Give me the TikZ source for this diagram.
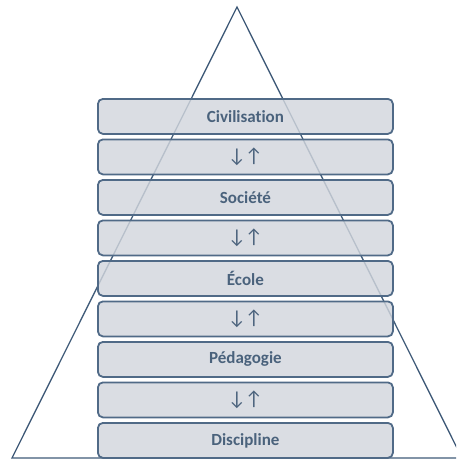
\documentclass[tikz,border=0pt]{standalone}
\usepackage{fontspec}
\setmainfont{Carlito}[Ligatures=NoCommon]
\newfontfamily\arrowfont{Carlito}
\definecolor{boxfill}{HTML}{D2D6DD}
\definecolor{boxline}{HTML}{506A87}
\definecolor{boxtext}{HTML}{4A627C}
\definecolor{triline}{HTML}{3F5A78}
\begin{document}
\begin{tikzpicture}[x=1pt,y=-1pt,
  layer/.style={draw=boxline, line width=1.8pt, fill=boxfill, fill opacity=0.82,
    text opacity=1, rounded corners=5pt, minimum width=295pt, minimum height=35pt,
    inner sep=0pt, anchor=north west, text=boxtext, font=\bfseries\fontsize{17}{20}\selectfont},
  arrowtxt/.style={font=\arrowfont\fontsize{20}{22}\selectfont}
]
\useasboundingbox (0,0) rectangle (456,461);
\clip (0,0) rectangle (456,461);
\coordinate (apex) at (237,7);
\coordinate (bl) at (12,458);
\coordinate (br) at (462,458);
\draw[triline, line width=1.3pt] (bl) -- (apex) -- (br) -- cycle;
\node[layer] (b1) at (97,98) {Civilisation};
\node[layer, arrowtxt] (b2) at (97,138.5) {↓\kern-1pt↑};
\node[layer] (b3) at (97,179) {Société};
\node[layer, arrowtxt] (b4) at (97,219.5) {↓\kern-1pt↑};
\node[layer] (b5) at (97,260) {École};
\node[layer, arrowtxt] (b6) at (97,300.5) {↓\kern-1pt↑};
\node[layer] (b7) at (97,341) {Pédagogie};
\node[layer, arrowtxt] (b8) at (97,381.5) {↓\kern-1pt↑};
\node[layer] (b9) at (97,422) {Discipline};
\end{tikzpicture}
\end{document}
